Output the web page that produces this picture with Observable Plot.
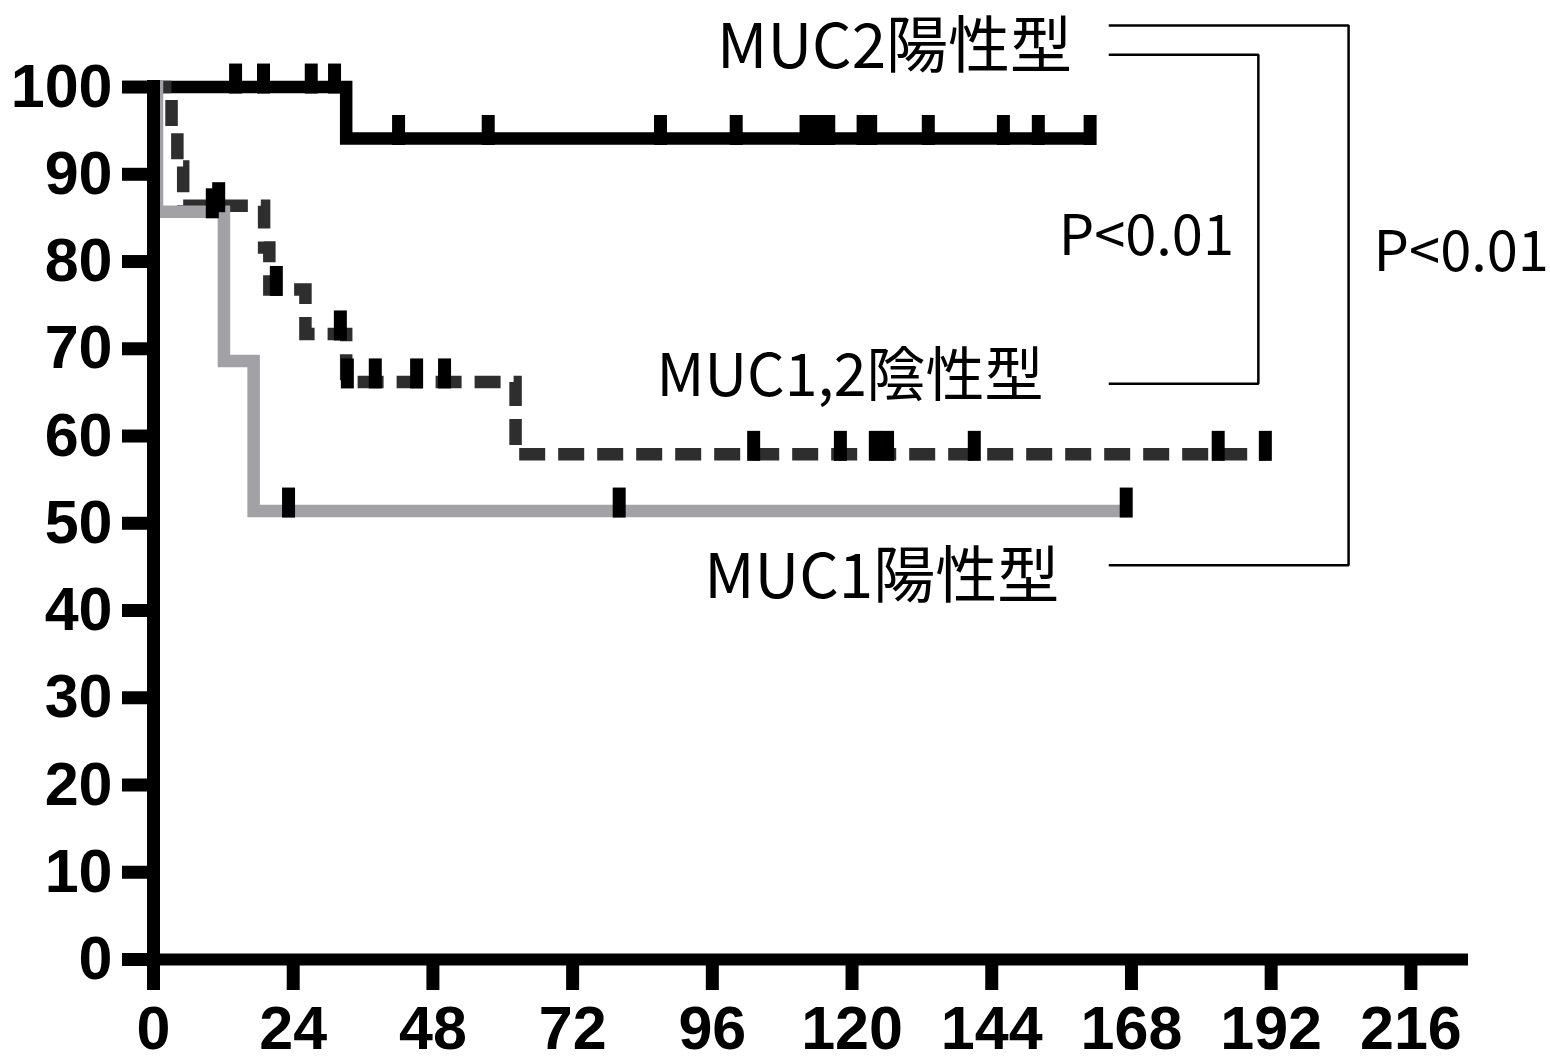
<!DOCTYPE html>
<html><head><meta charset="utf-8">
<script src="https://cdn.jsdelivr.net/npm/d3@7"></script>
<script src="https://cdn.jsdelivr.net/npm/@observablehq/plot@0.6"></script>
<style>body{margin:0;background:#fff}</style>
</head><body><div id="chart"></div>
<script>
// Axis ticks
const xTicks = [0, 24, 48, 72, 96, 120, 144, 168, 192, 216];
const yTicks = [0, 10, 20, 30, 40, 50, 60, 70, 80, 90, 100];

// MUC2陽性型 (black solid)
const muc2Times = [0, 33.1, 160.9];
const muc2Surv  = [100, 94.1, 94.1];
const muc2Censor = [14.1, 18.9, 27.1, 31.1, 42.1, 57.5, 87.1, 100.1, 112.1, 114.1, 116.0, 121.9, 123.2, 133.1, 146.0, 152.0, 160.9];

// MUC1,2陰性型 (dark dashed)
const negTimes = [0, 3.1, 4.1, 5.1, 19.0, 19.9, 26.1, 33.1, 62.2, 191.0];
const negSurv  = [100, 95.5, 90.9, 86.4, 81.6, 76.8, 71.7, 66.2, 57.9, 57.9];
const negCensor = [11.2, 21.1, 32.1, 33.3, 38.1, 45.2, 50.0, 103.1, 118.0, 124.0, 126.1, 141.0, 182.9, 191.0];

// MUC1陽性型 (gray solid)
const muc1Times = [0, 0.6, 12.1, 17.2, 167.1];
const muc1Surv  = [100, 85.7, 68.6, 51.4, 51.4];
const muc1Censor = [10.1, 23.2, 80.0, 167.1];

// Annotations
const groupLabels = ["MUC2陽性型", "MUC1,2陰性型", "MUC1陽性型"];
const groupLabelX = [157.8, 152.9, 155.6];
const groupLabelY = [104.5, 66.8, 43.7];
const groupLabelSize = [62, 59, 62];
const pLabels = ["P<0.01", "P<0.01"];
const pLabelX = [155.5, 209.6];
const pLabelY = [82.75, 81.0];
const outerBracketX = [164.1, 205.3, 205.3, 164.1];
const outerBracketY = [107.05, 107.05, 45.2, 45.2];
const innerBracketX = [164.1, 189.8, 189.8, 164.1];
const innerBracketY = [103.7, 103.7, 66.0, 66.0];

const steps = (times, surv) => times.map((t, i) => ({t, s: surv[i]}));
const survAt = (times, surv, t) => { let s = surv[0]; times.forEach((tt, i) => { if (tt <= t) s = surv[i]; }); return s; };
const censors = (times, surv, c) => c.map(t => ({t, s: survAt(times, surv, t)}));

const muc2 = steps(muc2Times, muc2Surv);
const neg = steps(negTimes, negSurv);
const muc1 = steps(muc1Times, muc1Surv);
const allCensors = [
  ...censors(muc2Times, muc2Surv, muc2Censor),
  ...censors(negTimes, negSurv, negCensor),
  ...censors(muc1Times, muc1Surv, muc1Censor)
];
const labels = groupLabels.map((text, i) => ({text, x: groupLabelX[i], y: groupLabelY[i], size: groupLabelSize[i]}));
const plabels = pLabels.map((text, i) => ({text, x: pLabelX[i], y: pLabelY[i]}));
const brackets = [
  ...outerBracketX.map((x, i) => ({b: "outer", x, y: outerBracketY[i]})),
  ...innerBracketX.map((x, i) => ({b: "inner", x, y: innerBracketY[i]}))
];

const censorSymbol = { draw(ctx) { ctx.rect(-6.5, -23.5, 13, 30); } };
const lineStyle = {x: "t", y: "s", curve: "step-after", strokeWidth: 12.5, strokeLinecap: "butt", strokeLinejoin: "miter", strokeMiterlimit: 4};
const annotFont = {fontFamily: "Noto Sans CJK JP", fontWeight: "normal", fill: "black"};

const chart = Plot.plot({
  width: 1550,
  height: 1059,
  marginLeft: 153,
  marginRight: 82,
  marginTop: 80,
  marginBottom: 100,
  style: {fontFamily: "Liberation Sans", fontSize: "61px", fontWeight: "bold", color: "black", background: "white"},
  x: {domain: [0, 225.9]},
  y: {domain: [0, 100.75]},
  marks: [
    Plot.line(muc2, {...lineStyle, stroke: "#000000"}),
    Plot.line(neg, {...lineStyle, stroke: "#2e2e2e", strokeDasharray: "26,13", strokeDashoffset: 8}),
    Plot.line(muc1, {...lineStyle, stroke: "#a2a1a6"}),
    Plot.dot(allCensors, {x: "t", y: "s", symbol: censorSymbol, fill: "black", stroke: "none"}),
    Plot.ruleX([0], {stroke: "black", strokeWidth: 13}),
    Plot.ruleY([0], {stroke: "black", strokeWidth: 12}),
    Plot.axisX({ticks: xTicks, tickSize: 31, tickPadding: 15, strokeWidth: 13, tickFormat: d => String(d), label: null}),
    Plot.axisY({ticks: yTicks, tickSize: 31, tickPadding: 10, strokeWidth: 13, tickFormat: d => String(d), label: null}),
    Plot.line(brackets, {x: "x", y: "y", z: "b", stroke: "black", strokeWidth: 2.5, strokeLinejoin: "miter", strokeLinecap: "butt"}),
    Plot.text(labels, {x: "x", y: "y", text: "text", textAnchor: "end", fontSize: "size", ...annotFont}),
    Plot.text(plabels, {x: "x", y: "y", text: "text", textAnchor: "start", fontSize: 56, ...annotFont})
  ]
});
document.getElementById("chart").appendChild(chart);
</script>
</body></html>
